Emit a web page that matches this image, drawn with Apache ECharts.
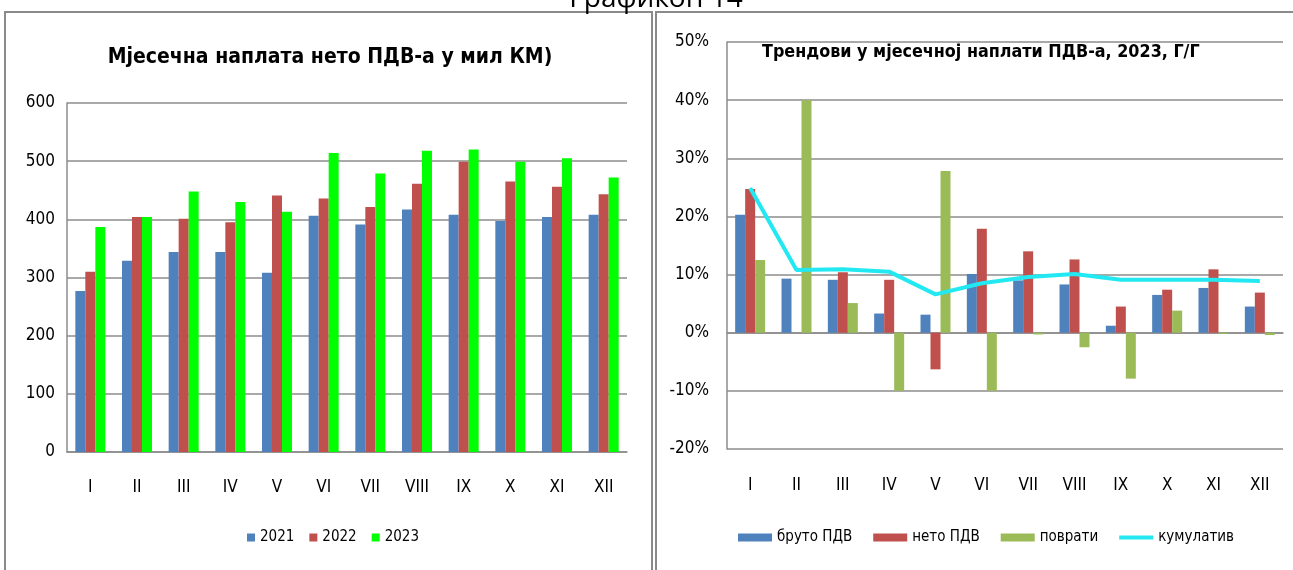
<!DOCTYPE html>
<html>
<head>
<meta charset="utf-8">
<script src="https://cdn.jsdelivr.net/npm/echarts@6/dist/echarts.min.js"></script>
<style>
  html, body { margin: 0; padding: 0; background: #fff; }
  #main { width: 1293px; height: 570px; }
</style>
</head>
<body>
<div id="main"></div>
<script>
// категорије (мјесеци)
const months = ['I', 'II', 'III', 'IV', 'V', 'VI', 'VII', 'VIII', 'IX', 'X', 'XI', 'XII'];

// лијево: нето ПДВ у мил КМ
const net2021 = [277, 329, 344, 344, 308, 406, 391, 417, 408, 397, 404, 408];
const net2022 = [310, 404, 401, 395, 441, 436, 421, 461, 499, 465, 456, 443];
const net2023 = [387, 404, 448, 430, 413, 514, 479, 518, 520, 499, 505, 472];

// десно: трендови г/г у %
const grossVat = [20.3, 9.3, 9.1, 3.3, 3.1, 10.1, 9.0, 8.3, 1.2, 6.5, 7.7, 4.5];
const netVat = [24.7, 0, 10.4, 9.1, -6.3, 17.9, 14.0, 12.6, 4.5, 7.4, 10.9, 6.9];
const refunds = [12.5, 40.0, 5.1, -10.0, 27.8, -10.0, -0.3, -2.5, -7.9, 3.8, -0.2, -0.4];
const cumulative = [24.9, 10.8, 10.9, 10.5, 6.6, 8.5, 9.6, 10.1, 9.1, 9.1, 9.1, 8.9];

const font = "'Liberation Sans Narrow', 'DejaVu Sans Condensed', sans-serif";
const gridGray = '#8c8c8c';

let myChart = echarts.init(document.getElementById('main'));
let option = {
  backgroundColor: '#fff',
  animation: false,
  textStyle: { fontFamily: font, color: '#000' },
  graphic: [
    { type: 'rect', shape: { x: 5, y: 12, width: 647, height: 570 }, style: { fill: 'none', stroke: '#8a8a8a', lineWidth: 2 } },
    { type: 'rect', shape: { x: 656, y: 12, width: 660, height: 570 }, style: { fill: 'none', stroke: '#8a8a8a', lineWidth: 2 } },
    { type: 'text', x: 656, y: 13, style: { text: 'Графикон 14', font: "28px 'Open Sans', sans-serif", fill: '#000', align: 'center', verticalAlign: 'bottom' } },
    { type: 'text', x: 330, y: 58, style: { text: 'Мјесечна наплата нето ПДВ-а у мил КМ)', font: 'bold 21px ' + font, fill: '#000', align: 'center', verticalAlign: 'middle' } },
    { type: 'text', x: 762, y: 52, style: { text: 'Трендови у мјесечној наплати ПДВ-а, 2023, Г/Г', font: 'bold 17.8px ' + font, fill: '#000', align: 'left', verticalAlign: 'middle' } }
  ],
  legend: [
    {
      data: ['2021', '2022', '2023'],
      left: 247, top: 530, padding: 0, icon: 'rect', itemWidth: 8, itemHeight: 8, itemGap: 15,
      textStyle: { fontSize: 15, fontFamily: font, color: '#000' }
    },
    {
      data: [
        { name: 'бруто ПДВ', icon: 'rect' },
        { name: 'нето ПДВ', icon: 'rect' },
        { name: 'поврати', icon: 'rect' },
        { name: 'кумулатив', icon: 'path://M0,0L34,0L34,4L0,4Z' }
      ],
      left: 738, top: 530, padding: 0, itemWidth: 34, itemHeight: 8, itemGap: 21,
      textStyle: { fontSize: 15, fontFamily: font, color: '#000' }
    }
  ],
  grid: [
    { left: 67, right: 666, top: 103, bottom: 118 },
    { left: 727, right: 10, top: 42, bottom: 121 }
  ],
  xAxis: [
    {
      type: 'category', gridIndex: 0, data: months,
      axisLine: { lineStyle: { color: gridGray, width: 1.5 } },
      axisTick: { length: 6, lineStyle: { color: gridGray } },
      axisLabel: { margin: 27, fontSize: 17, color: '#000', fontFamily: font }
    },
    {
      type: 'category', gridIndex: 1, data: months,
      axisLine: { onZero: true, lineStyle: { color: gridGray, width: 1.5 } },
      axisTick: { length: 6, lineStyle: { color: gridGray } },
      axisLabel: { show: false }
    },
    {
      type: 'category', gridIndex: 1, data: months, position: 'bottom',
      axisLine: { show: false, onZero: false },
      axisTick: { show: false },
      axisLabel: { margin: 28, fontSize: 17, color: '#000', fontFamily: font }
    }
  ],
  yAxis: [
    {
      type: 'value', gridIndex: 0, min: 0, max: 600, interval: 100,
      axisLine: { show: true, lineStyle: { color: gridGray, width: 1.5 } },
      axisTick: { show: false },
      axisLabel: { margin: 12, fontSize: 17, color: '#000', fontFamily: font },
      splitLine: { lineStyle: { color: gridGray, width: 1.5 } }
    },
    {
      type: 'value', gridIndex: 1, min: -20, max: 50, interval: 10,
      axisLine: { show: true, lineStyle: { color: gridGray, width: 1.5 } },
      axisTick: { show: false },
      axisLabel: { margin: 18, fontSize: 17, color: '#000', fontFamily: font, formatter: v => v + '%' },
      splitLine: { lineStyle: { color: gridGray, width: 1.5 } }
    }
  ],
  series: [
    { name: '2021', type: 'bar', xAxisIndex: 0, yAxisIndex: 0, data: net2021, barWidth: 10, barGap: '0%', itemStyle: { color: '#4f81bd' } },
    { name: '2022', type: 'bar', xAxisIndex: 0, yAxisIndex: 0, data: net2022, barWidth: 10, barGap: '0%', itemStyle: { color: '#c0504d' } },
    { name: '2023', type: 'bar', xAxisIndex: 0, yAxisIndex: 0, data: net2023, barWidth: 10, barGap: '0%', itemStyle: { color: '#00ff00' } },
    { name: 'бруто ПДВ', type: 'bar', xAxisIndex: 1, yAxisIndex: 1, data: grossVat, barWidth: 10, barGap: '0%', itemStyle: { color: '#4f81bd' } },
    { name: 'нето ПДВ', type: 'bar', xAxisIndex: 1, yAxisIndex: 1, data: netVat, barWidth: 10, barGap: '0%', itemStyle: { color: '#c0504d' } },
    { name: 'поврати', type: 'bar', xAxisIndex: 1, yAxisIndex: 1, data: refunds, barWidth: 10, barGap: '0%', itemStyle: { color: '#9bbb59' } },
    {
      name: 'кумулатив', type: 'line', xAxisIndex: 1, yAxisIndex: 1, data: cumulative,
      symbol: 'none', itemStyle: { color: '#22e8f2' },
      lineStyle: { color: '#22e8f2', width: 4 }
    }
  ]
};
myChart.setOption(option);
</script>
</body>
</html>
